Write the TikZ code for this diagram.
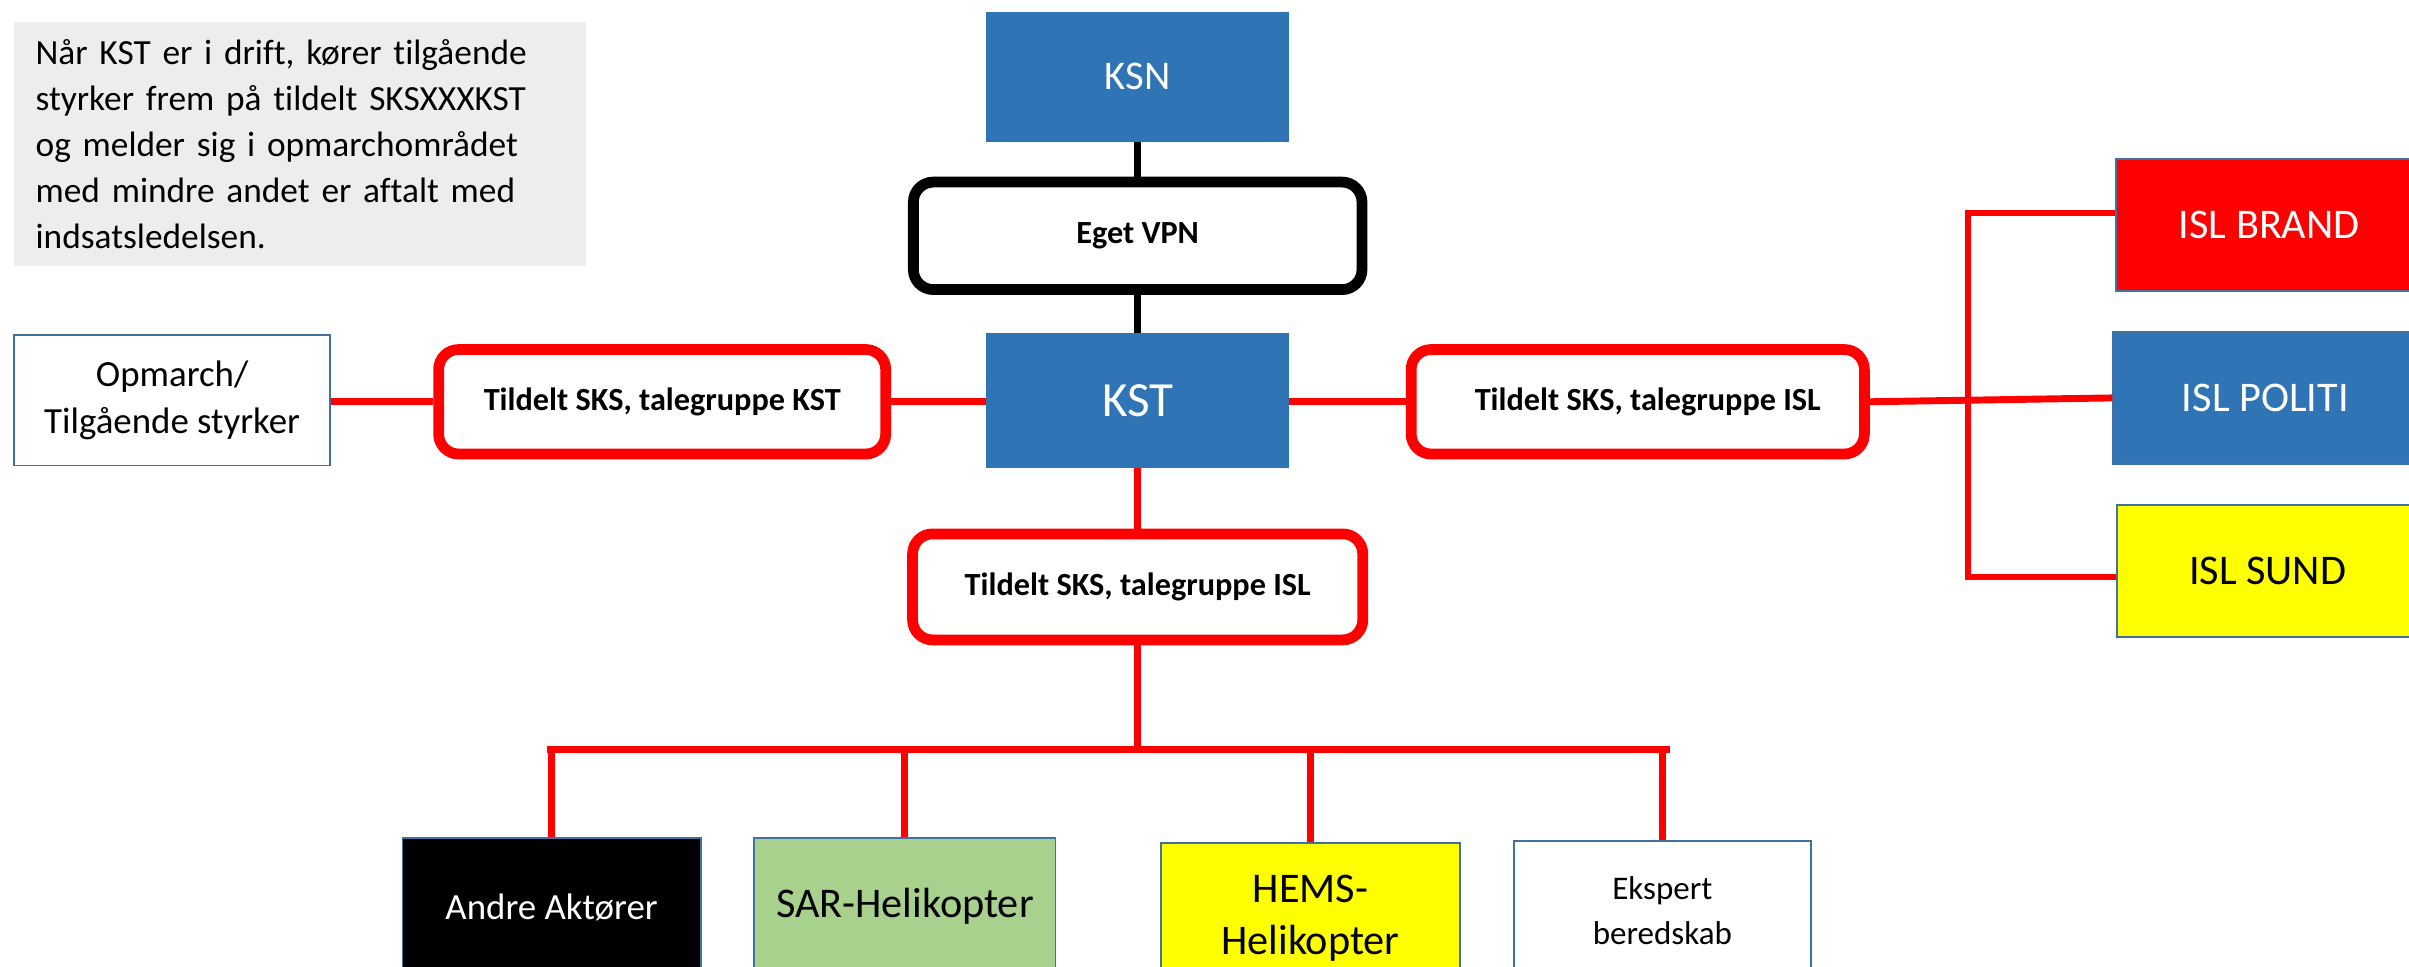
\documentclass[tikz,border=0pt]{standalone}
\usepackage{fontspec}
\setmainfont{Carlito}[Ligatures={NoCommon}]
\definecolor{obl}{HTML}{2F74B5}
\definecolor{bord}{HTML}{41719C}
\definecolor{sgreen}{HTML}{A9D18E}
\definecolor{lgray}{HTML}{EDEDED}
\definecolor{rred}{HTML}{FF0000}
\definecolor{yyel}{HTML}{FFFF00}
\begin{document}
\begin{tikzpicture}[x=1pt,y=-1pt,
  sqbox/.style={rectangle, draw=bord, line width=1.2pt, inner sep=0pt, align=center},
  bluebox/.style={rectangle, fill=obl, draw=obl, line width=1pt, inner sep=0pt, align=center, text=white},
  rndbox/.style={rectangle, rounded corners=13pt, draw=rred, line width=7pt, fill=white, inner sep=0pt,
     minimum width=291pt, minimum height=68pt, align=center, font=\bfseries\fontsize{21}{25}\selectfont},
  redline/.style={draw=rred, line width=4.5pt},
  blkline/.style={draw=black, line width=4.5pt}]
\useasboundingbox (0,0) rectangle (1568,629);
\clip (0,0) rectangle (1568,629);
\fill[white] (0,0) rectangle (1568,629);

% info text box
\node[fill=lgray, anchor=north west, minimum width=372pt, minimum height=159pt, inner xsep=14pt,
  text width=344pt, align=left, font=\fontsize{23}{30}\selectfont] (info) at (9,14)
  {Når KST er i drift, kører tilgående\\styrker frem på tildelt SKSXXXKST\\og melder sig i opmarchområdet\\med mindre andet er aftalt med\\indsatsledelsen.};

% central column
\node[bluebox, minimum width=196pt, minimum height=84pt, font=\fontsize{26.5}{30}\selectfont] (ksn) at (740.5,50) {KSN};
\node[rndbox, draw=black, minimum width=292pt, minimum height=70pt] (vpn) at (740.5,153.5) {Eget VPN};
\node[bluebox, minimum width=196pt, minimum height=87pt, font=\fontsize{32}{36}\selectfont] (kst) at (740.5,260.5) {KST};
\node[rndbox, minimum width=293pt, minimum height=69pt] (isl2) at (740.5,382) {Tildelt SKS, talegruppe ISL};

% left
\node[sqbox, fill=white, minimum width=206pt, minimum height=85pt, font=\fontsize{24}{31}\selectfont] (opm) at (112,260.5) {Opmarch/\\Tilgående styrker};
\node[rndbox] (tkst) at (431,261.5) {Tildelt SKS, talegruppe KST};

% right
\node[rndbox, minimum width=295pt] (tisl) at (1066,261.5) {\hspace*{13pt}Tildelt SKS, talegruppe ISL};
\node[sqbox, fill=rred, text=white, minimum width=200pt, minimum height=86pt, font=\fontsize{27.5}{31}\selectfont] (brand) at (1477,146.5) {ISL BRAND};
\node[sqbox, fill=obl, text=white, minimum width=198pt, minimum height=86pt, font=\fontsize{27.5}{31}\selectfont] (politi) at (1474.5,259) {ISL POLITI};
\node[sqbox, fill=yyel, minimum width=196pt, minimum height=86pt, font=\fontsize{27.5}{31}\selectfont] (sund) at (1476,371.5) {ISL SUND};

% bottom row
\node[sqbox, fill=black, text=white, anchor=north, minimum width=194pt, minimum height=90pt, font=\fontsize{24}{28}\selectfont] (andre) at (359,545) {Andre Aktører};
\node[sqbox, fill=sgreen, anchor=north, minimum width=196pt, minimum height=88pt, font=\fontsize{27.5}{32}\selectfont] (sar) at (589,545) {SAR-Helikopter};
\node[sqbox, fill=yyel, anchor=north, minimum width=195pt, minimum height=98pt, font=\fontsize{27.5}{34}\selectfont] (hems) at (853,548) {HEMS-\\Helikopter};
\node[sqbox, fill=white, anchor=north, minimum width=193pt, minimum height=90pt, font=\fontsize{21.5}{29}\selectfont] (eksp) at (1082,547) {Ekspert\\beredskab};

% coordinates
\coordinate (bus) at (740.5,488);
\coordinate (busL) at (358,488);
\coordinate (busR) at (1085,488);
\coordinate (rbt) at (1281,138.5);
\coordinate (rbb) at (1281,375.5);

% connectors
\draw[blkline] (ksn.south) -- (vpn.north);
\draw[blkline] (vpn.south) -- (kst.north);
\draw[redline] (kst.south) -- (isl2.north);
\draw[redline] (tkst.west -| opm.east) -- (tkst.west);
\draw[redline] (tkst.east) -- (tkst.east -| kst.west);
\draw[redline] (tisl.west -| kst.east) -- (tisl.west);
\draw[redline] (tisl.east) -- (politi.west);
\draw[redline, line width=3.8pt, line join=miter] (rbt -| brand.west) -- (rbt) -- (rbb) -- (rbb -| sund.west);
\draw[redline] (isl2.south) -- (bus);
\draw[redline, line cap=rect] (busL) -- (busR);
\draw[redline] (andre.north) -- (andre.north |- bus);
\draw[redline] (sar.north) -- (sar.north |- bus);
\draw[redline] (hems.north) -- (hems.north |- bus);
\draw[redline] (eksp.north) -- (eksp.north |- bus);
\end{tikzpicture}
\end{document}
